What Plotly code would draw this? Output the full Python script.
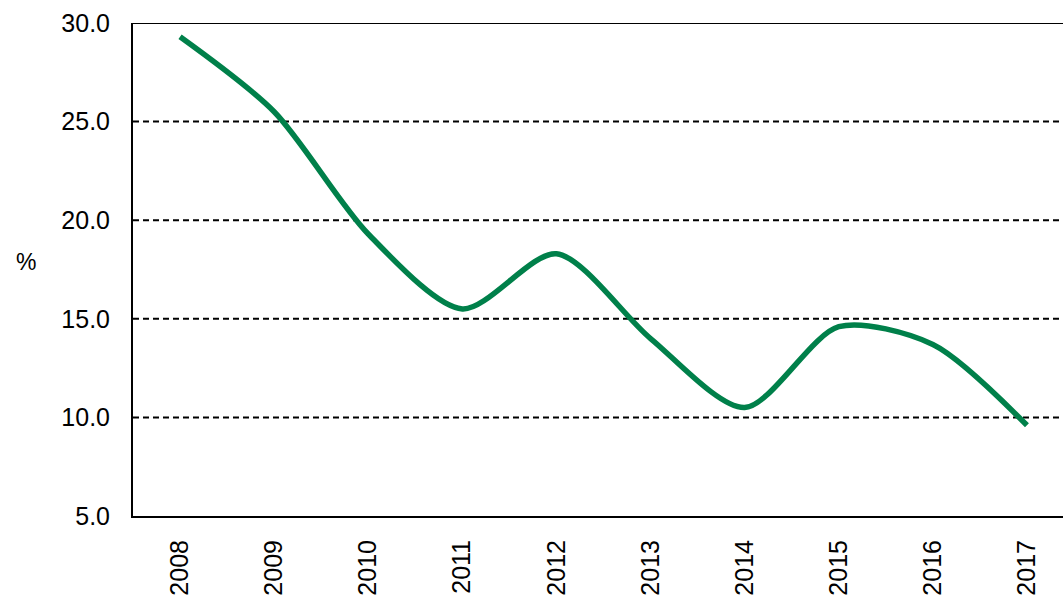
import plotly.graph_objects as go

years = ["2008", "2009", "2010", "2011", "2012", "2013", "2014", "2015", "2016", "2017"]
values = [29.3, 25.5, 19.3, 15.5, 18.3, 14.0, 10.5, 14.6, 13.7, 9.6]
y_ticks = [5, 10, 15, 20, 25, 30]

fig = go.Figure()
fig.add_trace(go.Scatter(
    x=list(range(len(years))), y=values, mode="lines",
    line=dict(color="#00804A", width=5.5, shape="spline", smoothing=0.8),
    showlegend=False, hoverinfo="skip",
))

# dashed gridlines
for v in [10, 15, 20, 25]:
    fig.add_shape(type="line", xref="paper", yref="y", x0=0, x1=1, y0=v, y1=v,
                  line=dict(color="black", width=2, dash="6px,4px"), layer="below")
# top border
fig.add_shape(type="line", xref="paper", yref="y", x0=0, x1=1, y0=30, y1=30,
              line=dict(color="black", width=2))

fig.update_layout(
    width=1063, height=596,
    margin=dict(l=133, r=0, t=23, b=77),
    paper_bgcolor="white", plot_bgcolor="white",
    font=dict(family="Liberation Sans, Arial", size=25, color="black"),
    xaxis=dict(
        tickmode="array", tickvals=list(range(len(years))), ticktext=years,
        range=[-0.5, 9.383], tickangle=-90, showgrid=False, zeroline=False,
        showline=True, linecolor="black", linewidth=2,
        ticks="outside", ticklen=12, tickcolor="rgba(0,0,0,0)",
    ),
    yaxis=dict(
        range=[5, 30], tickvals=y_ticks, tickformat=".1f", showgrid=False,
        zeroline=False, showline=True, linecolor="black", linewidth=2,
        ticks="outside", ticklen=16, tickcolor="rgba(0,0,0,0)",
    ),
    annotations=[dict(text="%", xref="paper", yref="paper", x=-0.1275, y=0.516,
                      showarrow=False, xanchor="left", font=dict(size=23))],
)

fig.write_html(
    "out.html",
    config={"displayModeBar": False},
    post_script="document.body.style.margin='0';document.body.style.overflow='hidden';",
)
